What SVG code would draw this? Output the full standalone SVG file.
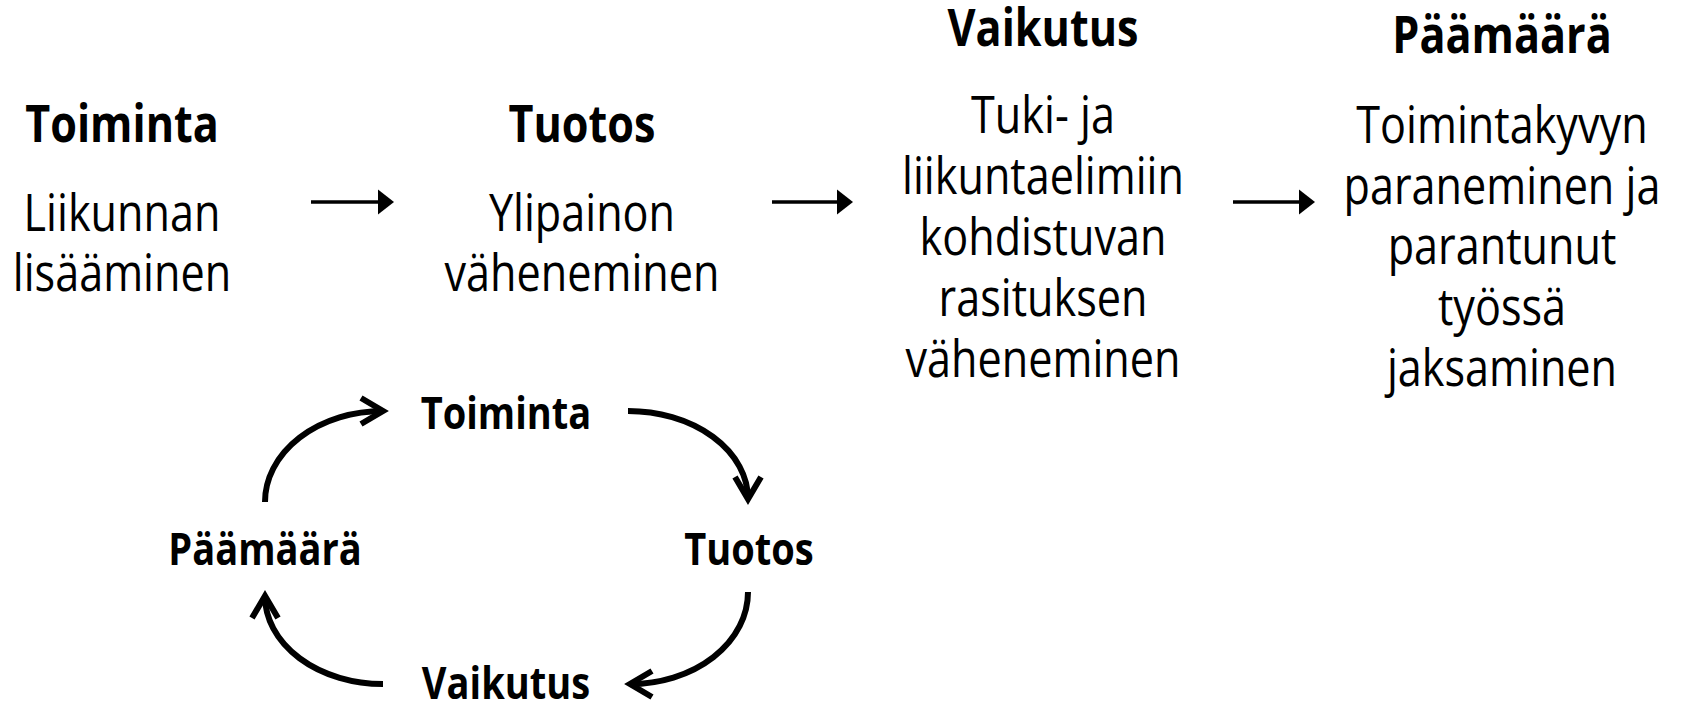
<svg xmlns="http://www.w3.org/2000/svg" width="1683" height="702" viewBox="0 0 1683 702">
  <style>
    text { font-family: "Open Sans", "Liberation Sans", sans-serif; fill: #000; text-anchor: middle; }
    .h { font-weight: 700; font-size: 51.4px; }
    .b { font-weight: 400; font-size: 51.4px; }
    .c { font-weight: 700; font-size: 45.3px; }
    .ln { stroke: #000; stroke-width: 3.4; fill: none; }
    .arc { stroke: #000; stroke-width: 6; fill: none; }
  </style>
  <defs>
    <marker id="tri" markerUnits="userSpaceOnUse" viewBox="0 -13 16 26" refX="0" refY="0" markerWidth="16" markerHeight="26" orient="auto">
      <path d="M0,-12.5 L16,0 L0,12.5 Z" fill="#000"/>
    </marker>
    <marker id="chev" markerUnits="userSpaceOnUse" viewBox="-30 -20 42 40" refX="0" refY="0" markerWidth="42" markerHeight="40" orient="auto">
      <path d="M-22,-13 L0,0 L-22,13" fill="none" stroke="#000" stroke-width="6"/>
    </marker>
  </defs>

  <g id="col-toiminta" transform="translate(122 0) scale(0.84 1)">
    <text class="h" x="0" y="142">Toiminta</text>
    <text class="b" x="0" y="231">Liikunnan</text>
    <text class="b" x="0" y="291">lisääminen</text>
  </g>

  <g id="col-tuotos" transform="translate(582 0) scale(0.84 1)">
    <text class="h" x="0" y="142">Tuotos</text>
    <text class="b" x="0" y="231">Ylipainon</text>
    <text class="b" x="0" y="291">väheneminen</text>
  </g>

  <g id="col-vaikutus" transform="translate(1043 0) scale(0.84 1)">
    <text class="h" x="0" y="46">Vaikutus</text>
    <text class="b" x="0" y="133.5">Tuki- ja</text>
    <text class="b" x="0" y="194.5">liikuntaelimiin</text>
    <text class="b" x="0" y="255.5">kohdistuvan</text>
    <text class="b" x="0" y="316.5">rasituksen</text>
    <text class="b" x="0" y="377.5">väheneminen</text>
  </g>

  <g id="col-paamaara" transform="translate(1502 0) scale(0.84 1)">
    <text class="h" x="0" y="53">Päämäärä</text>
    <text class="b" x="0" y="143">Toimintakyvyn</text>
    <text class="b" x="0" y="203.7">paraneminen ja</text>
    <text class="b" x="0" y="264.4">parantunut</text>
    <text class="b" x="0" y="325.1">työssä</text>
    <text class="b" x="0" y="385.8">jaksaminen</text>
  </g>

  <g id="cyc-toiminta" transform="translate(506 0) scale(0.84 1)">
    <text class="c" x="0" y="429">Toiminta</text>
  </g>
  <g id="cyc-tuotos" transform="translate(749 0) scale(0.84 1)">
    <text class="c" x="0" y="565">Tuotos</text>
  </g>
  <g id="cyc-vaikutus" transform="translate(506 0) scale(0.84 1)">
    <text class="c" x="0" y="699">Vaikutus</text>
  </g>
  <g id="cyc-paamaara" transform="translate(265 0) scale(0.84 1)">
    <text class="c" x="0" y="565">Päämäärä</text>
  </g>

  <g id="connectors">
    <path class="ln" d="M311,202 H378" marker-end="url(#tri)"/>
    <path class="ln" d="M772,202 H837" marker-end="url(#tri)"/>
    <path class="ln" d="M1233,202 H1299" marker-end="url(#tri)"/>

    <path class="arc" d="M265,502 A118,91 0 0 1 383,411" marker-end="url(#chev)"/>
    <path class="arc" d="M628,411 A120,88 0 0 1 748,499" marker-end="url(#chev)"/>
    <path class="arc" d="M748,592 A118,92 0 0 1 630,684" marker-end="url(#chev)"/>
    <path class="arc" d="M383,684 A118,88 0 0 1 265,596" marker-end="url(#chev)"/>
  </g>
</svg>
